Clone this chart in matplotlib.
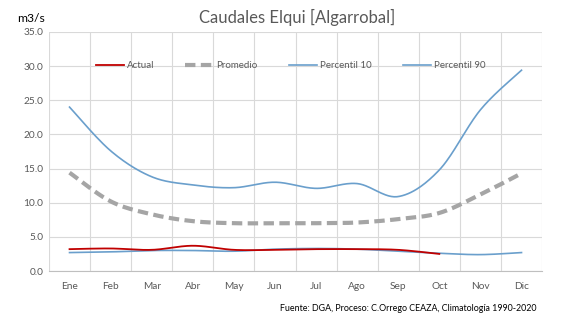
import numpy as np
import matplotlib
matplotlib.use("Agg")
import matplotlib.pyplot as plt

months = ["Ene", "Feb", "Mar", "Abr", "May", "Jun", "Jul", "Ago", "Sep", "Oct", "Nov", "Dic"]
actual = [3.2, 3.3, 3.1, 3.7, 3.1, 3.1, 3.2, 3.2, 3.1, 2.5]
promedio = [14.4, 10.2, 8.3, 7.3, 7.0, 7.0, 7.0, 7.1, 7.6, 8.5, 11.2, 14.3]
p10 = [2.7, 2.8, 3.0, 3.0, 2.9, 3.2, 3.3, 3.2, 2.9, 2.6, 2.4, 2.7]
p90 = [24.0, 17.6, 13.8, 12.6, 12.2, 13.0, 12.1, 12.8, 10.9, 14.8, 23.6, 29.4]

plt.rcParams['font.family'] = ['Lato', 'DejaVu Sans']


def smooth(y, n=30):
    """Catmull-Rom style smoothing (like Excel smoothed line)."""
    y = np.asarray(y, float)
    x = np.arange(len(y), dtype=float)
    P = np.column_stack([x, y])
    P = np.vstack([P[0], P, P[-1]])
    out = []
    for i in range(1, len(P) - 2):
        p0, p1, p2, p3 = P[i - 1], P[i], P[i + 1], P[i + 2]
        c1 = p1 + (p2 - p0) / 6.0
        c2 = p2 - (p3 - p1) / 6.0
        t = np.linspace(0, 1, n)[:, None]
        seg = ((1 - t) ** 3) * p1 + 3 * ((1 - t) ** 2) * t * c1 + 3 * (1 - t) * t ** 2 * c2 + t ** 3 * p2
        out.append(seg if i == 1 else seg[1:])
    out = np.vstack(out)
    return out[:, 0], out[:, 1]


fig = plt.figure(figsize=(5.86, 3.32), dpi=100)
ax = fig.add_axes([0.0836, 0.1837, 0.8414, 0.72])

blue = "#6A9FCC"
xs, ys = smooth(actual)
ax.plot(xs, ys, color="#C00000", lw=1.3, label="Actual", zorder=4)
xs, ys = smooth(promedio)
ax.plot(xs, ys, color="#A5A5A5", lw=3.0, dashes=(2.5, 1.3), label="Promedio", zorder=3)
xs, ys = smooth(p10)
ax.plot(xs, ys, color=blue, lw=1.2, label="Percentil 10", zorder=3)
xs, ys = smooth(p90)
ax.plot(xs, ys, color=blue, lw=1.2, label="Percentil 90", zorder=3)

ax.set_xlim(-0.5, 11.5)
ax.set_ylim(0, 35)
ax.set_xticks(range(12))
ax.set_xticklabels(months)
ax.set_xticks(np.arange(-0.5, 12, 1), minor=True)
ax.set_yticks(np.arange(0, 35.1, 5))
ax.set_yticklabels([f"{v:.1f}" for v in np.arange(0, 35.1, 5)])
ax.tick_params(axis='both', which='both', length=0, labelsize=7.3, colors="#595959", pad=8)
ax.tick_params(axis='y', pad=4)
ax.grid(axis='y', which='major', color="#D9D9D9", lw=0.8)
ax.grid(axis='x', which='minor', color="#D9D9D9", lw=0.8)
for s in ["top", "right", "left"]:
    ax.spines[s].set_visible(False)
ax.spines["bottom"].set_color("#BFBFBF")
ax.set_axisbelow(True)

ax.legend(loc="center", bbox_to_anchor=(0.49, 0.858), ncol=4, frameon=False,
          fontsize=7, handlelength=2.9, handletextpad=0.3, columnspacing=3.2,
          labelcolor="#595959")

fig.text(0.507, 0.948, "Caudales Elqui [Algarrobal]", ha="center", va="center",
         fontsize=12, color="#595959")
fig.text(0.029, 0.945, "m3/s", ha="left", va="center", fontsize=8.7, color="#000000")
fig.text(0.915, 0.072, "Fuente: DGA, Proceso: C.Orrego CEAZA, Climatología 1990-2020",
         ha="right", va="center", fontsize=6.4, color="#000000")

fig.savefig("out.png", dpi=100)
